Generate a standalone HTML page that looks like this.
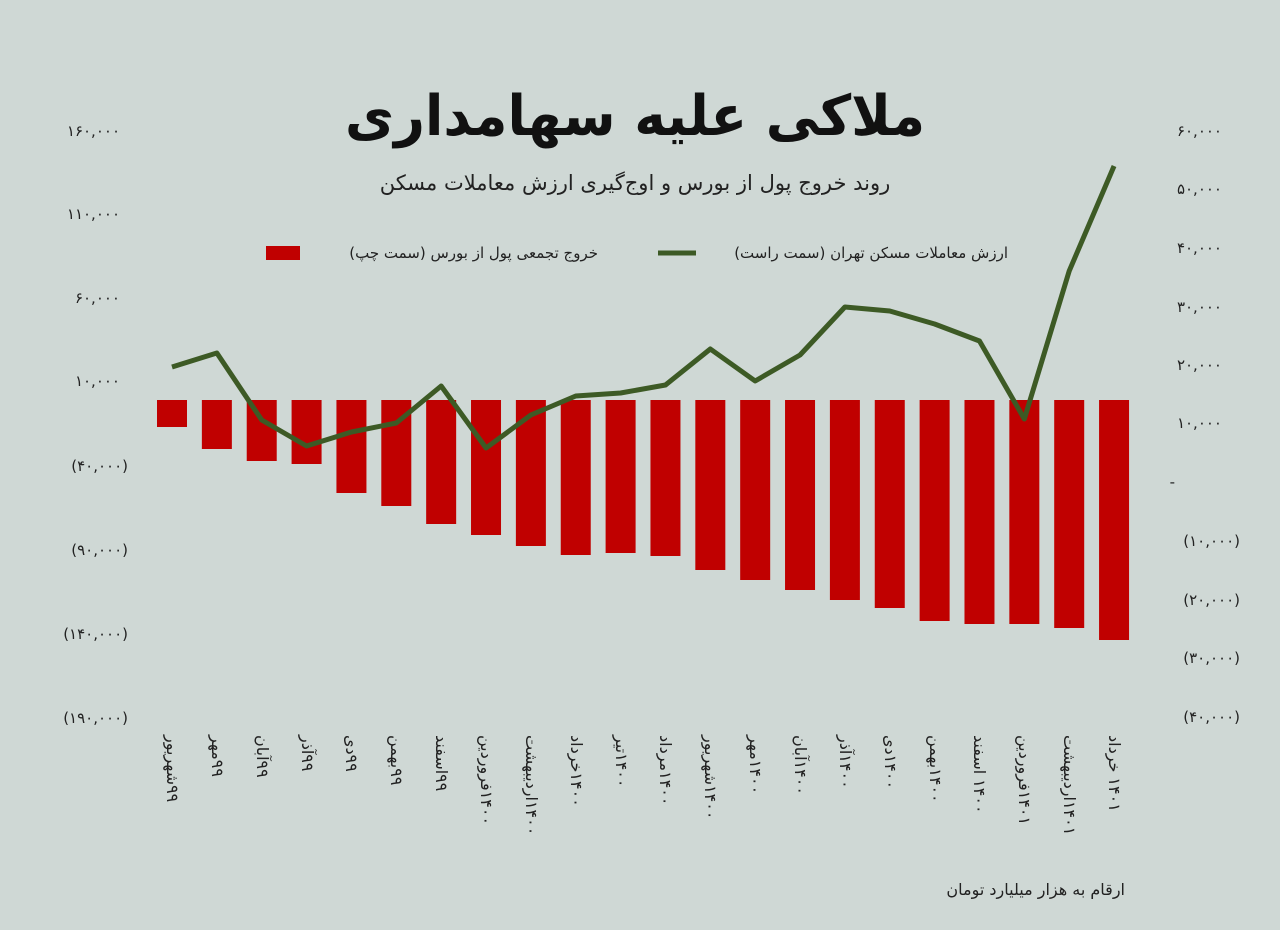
<!DOCTYPE html>
<html><head><meta charset="utf-8"><style>
body{margin:0;background:#cfd8d5;position:relative;width:1280px;height:930px;overflow:hidden}
svg{display:block}
text{font-family:"DejaVu Sans","Noto Sans CJK SC",sans-serif;fill:#222}
.lb{position:absolute;top:735px;transform-origin:0 0;transform:rotate(90deg);direction:ltr;white-space:nowrap;font:16px/20px "DejaVu Sans",sans-serif;color:#222}
.lb span{display:inline-block}
</style></head><body>
<svg width="1280" height="930" viewBox="0 0 1280 930">
<rect width="1280" height="930" fill="#cfd8d5"/>
<text x="635" y="135" text-anchor="middle" font-size="56" font-weight="bold" style="fill:#111" textLength="580" lengthAdjust="spacingAndGlyphs">ملاکی علیه سهامداری</text>
<text x="635" y="190" text-anchor="middle" font-size="21">روند خروج پول از بورس و اوج‌گیری ارزش معاملات مسکن</text>
<rect x="266" y="246" width="34" height="14" fill="#c00000"/>
<text x="598" y="258" text-anchor="end" font-size="15">خروج تجمعی پول از بورس (سمت چپ)</text>
<line x1="658" y1="253" x2="696" y2="253" stroke="#3d5a25" stroke-width="5"/>
<text x="1008" y="258" text-anchor="end" font-size="15">ارزش معاملات مسکن تهران (سمت راست)</text>
<g font-size="15" text-anchor="end">
<text x="120" y="136">۱۶۰,۰۰۰</text>
<text x="120" y="219">۱۱۰,۰۰۰</text>
<text x="120" y="303">۶۰,۰۰۰</text>
<text x="120" y="386">۱۰,۰۰۰</text>
<text x="128" y="471">(۴۰,۰۰۰)</text>
<text x="128" y="555">(۹۰,۰۰۰)</text>
<text x="128" y="639">(۱۴۰,۰۰۰)</text>
<text x="128" y="723">(۱۹۰,۰۰۰)</text>
</g>
<g font-size="15" text-anchor="end">
<text x="1222" y="136">۶۰,۰۰۰</text>
<text x="1222" y="194">۵۰,۰۰۰</text>
<text x="1222" y="253">۴۰,۰۰۰</text>
<text x="1222" y="312">۳۰,۰۰۰</text>
<text x="1222" y="370">۲۰,۰۰۰</text>
<text x="1222" y="428">۱۰,۰۰۰</text>
<text x="1175" y="487">-</text>
<text x="1240" y="546">(۱۰,۰۰۰)</text>
<text x="1240" y="605">(۲۰,۰۰۰)</text>
<text x="1240" y="663">(۳۰,۰۰۰)</text>
<text x="1240" y="722">(۴۰,۰۰۰)</text>
</g>
<g fill="#c00000" id="bars"></g>
<polyline id="ln" fill="none" stroke="#3d5a25" stroke-width="5" stroke-linejoin="round"/>
<text x="1125" y="895" text-anchor="end" font-size="16">ارقام به هزار میلیارد تومان</text>
</svg>
<div id="labs"></div>
<script>
var b=[427,449,461,464,493,506,524,535,546,555,553,556,570,580,590,600,608,621,624,624,628,640];
var l=[367,353,420,446,432,423,386,448,415,396,393,385,349,381,355,307,311,324,341,419,271,166];
var w=["شهریور","مهر","آبان","آذر","دی","بهمن","اسفند","فروردین","اردیبهشت","خرداد","تیر","مرداد","شهریور","مهر","آبان","آذر","دی","بهمن","اسفند","فروردین","اردیبهشت","خرداد"];
var ns="http://www.w3.org/2000/svg",g=document.getElementById("bars"),lg=document.getElementById("labs"),pts=[];
for(var i=0;i<22;i++){var cx=172+i*44.86;
var r=document.createElementNS(ns,"rect");r.setAttribute("x",cx-15);r.setAttribute("y",400);r.setAttribute("width",30);r.setAttribute("height",b[i]-400);g.appendChild(r);
pts.push(cx+","+l[i]);
var d=document.createElement("div");d.className="lb";d.style.left=(cx+10)+"px";
var s1=document.createElement("span");s1.textContent=w[i];
var s2=document.createElement("span");s2.textContent=i<7?"۹۹":(i<19?"۱۴۰۰":"۱۴۰۱");
if(i==18||i==21)s2.style.marginLeft="5px";
d.appendChild(s1);d.appendChild(s2);lg.appendChild(d);}
document.getElementById("ln").setAttribute("points",pts.join(" "));
</script>
</body></html>
